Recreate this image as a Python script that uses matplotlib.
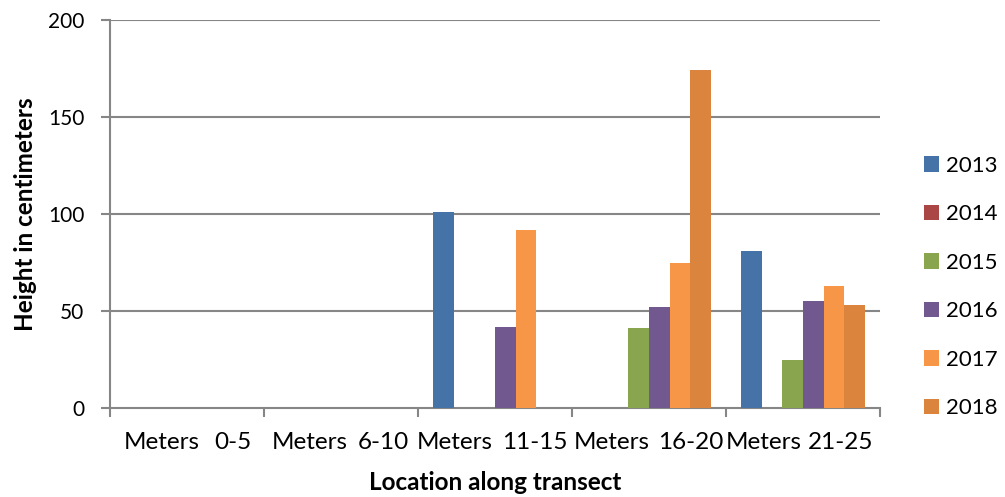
import matplotlib
matplotlib.use("Agg")
import matplotlib.pyplot as plt
import numpy as np

cat_words = ["Meters", "Meters", "Meters", "Meters", "Meters"]
cat_ranges = ["0-5", "6-10", "11-15", "16-20", "21-25"]
series_names = ["2013", "2014", "2015", "2016", "2017", "2018"]
v2013 = [0, 0, 101, 0, 81]
v2014 = [0, 0, 0, 0, 0]
v2015 = [0, 0, 0, 41, 24.5]
v2016 = [0, 0, 42, 52, 55]
v2017 = [0, 0, 92, 75, 63]
v2018 = [0, 0, 0, 174, 53]
series_values = [v2013, v2014, v2015, v2016, v2017, v2018]
colors = ["#4572A7", "#AA4643", "#89A54E", "#71588F", "#F79646", "#DB843D"]
yticks = [0, 50, 100, 150, 200]

# layout: pixel offsets (from category centre) of the word's right edge and the range's left edge
word_right_px = [13, 7, -2, 1, -1]
range_left_px = [27, 17, 7, 9, 5]

plt.rcParams['font.family'] = ['Lato', 'DejaVu Sans']

fig = plt.figure(figsize=(10.05, 4.97), dpi=100)
ax = fig.add_axes([110/1005, 89/497, 770/1005, 388/497])

n = len(series_names)
w = 1.0 / (n + 1.5)
x = np.arange(len(cat_words))
handles = []
for i, (name, vals, c) in enumerate(zip(series_names, series_values, colors)):
    b = ax.bar(x + (i - (n - 1) / 2) * w, vals, width=w, color=c, label=name, zorder=3)
    handles.append(b)

grid_c = "#868686"
ax.set_xlim(-0.5, len(cat_words) - 0.5)
ax.set_ylim(0, 200)
ax.set_yticks(yticks)
ax.set_yticklabels([str(t) for t in yticks], fontsize=15)
for t in yticks[1:]:
    ax.axhline(t, color=grid_c, lw=1.5, zorder=1)

for s in ["top", "right"]:
    ax.spines[s].set_visible(False)
for s in ["left", "bottom"]:
    ax.spines[s].set_color(grid_c)
    ax.spines[s].set_linewidth(1.5)

ax.tick_params(axis='y', direction='out', length=6.5, width=1.5, color=grid_c, pad=12)
ax.set_xticks(np.arange(-0.5, len(cat_words), 1.0), minor=True)
ax.set_xticks(x)
ax.set_xticklabels([""] * len(cat_words))
ax.tick_params(axis='x', which='major', length=0)
ax.tick_params(axis='x', which='minor', direction='out', length=6.5, width=1.5, color=grid_c)

for xi, wd, rg, wr, rl in zip(x, cat_words, cat_ranges, word_right_px, range_left_px):
    ax.annotate(wd, xy=(xi, 0), xycoords=('data', 'axes fraction'),
                xytext=(wr, -41), textcoords='offset pixels',
                ha='right', va='baseline', fontsize=17.5)
    ax.annotate(rg, xy=(xi, 0), xycoords=('data', 'axes fraction'),
                xytext=(rl, -41), textcoords='offset pixels',
                ha='left', va='baseline', fontsize=17.5)

fig.text(495/1005, (497 - 482)/497, "Location along transect", fontsize=17.5,
         fontweight='bold', ha='center', va='center')
ax.set_ylabel("Height in centimeters", fontsize=17.5, fontweight='bold', labelpad=8)

leg = fig.legend(handles=handles, labels=series_names, loc='center left',
                 bbox_to_anchor=(924/1005, (497 - 287)/497), frameon=False, fontsize=16,
                 handlelength=0.68, handleheight=0.68, handletextpad=0.3,
                 labelspacing=1.28, borderpad=0, borderaxespad=0)

fig.savefig("out.png", dpi=100)
